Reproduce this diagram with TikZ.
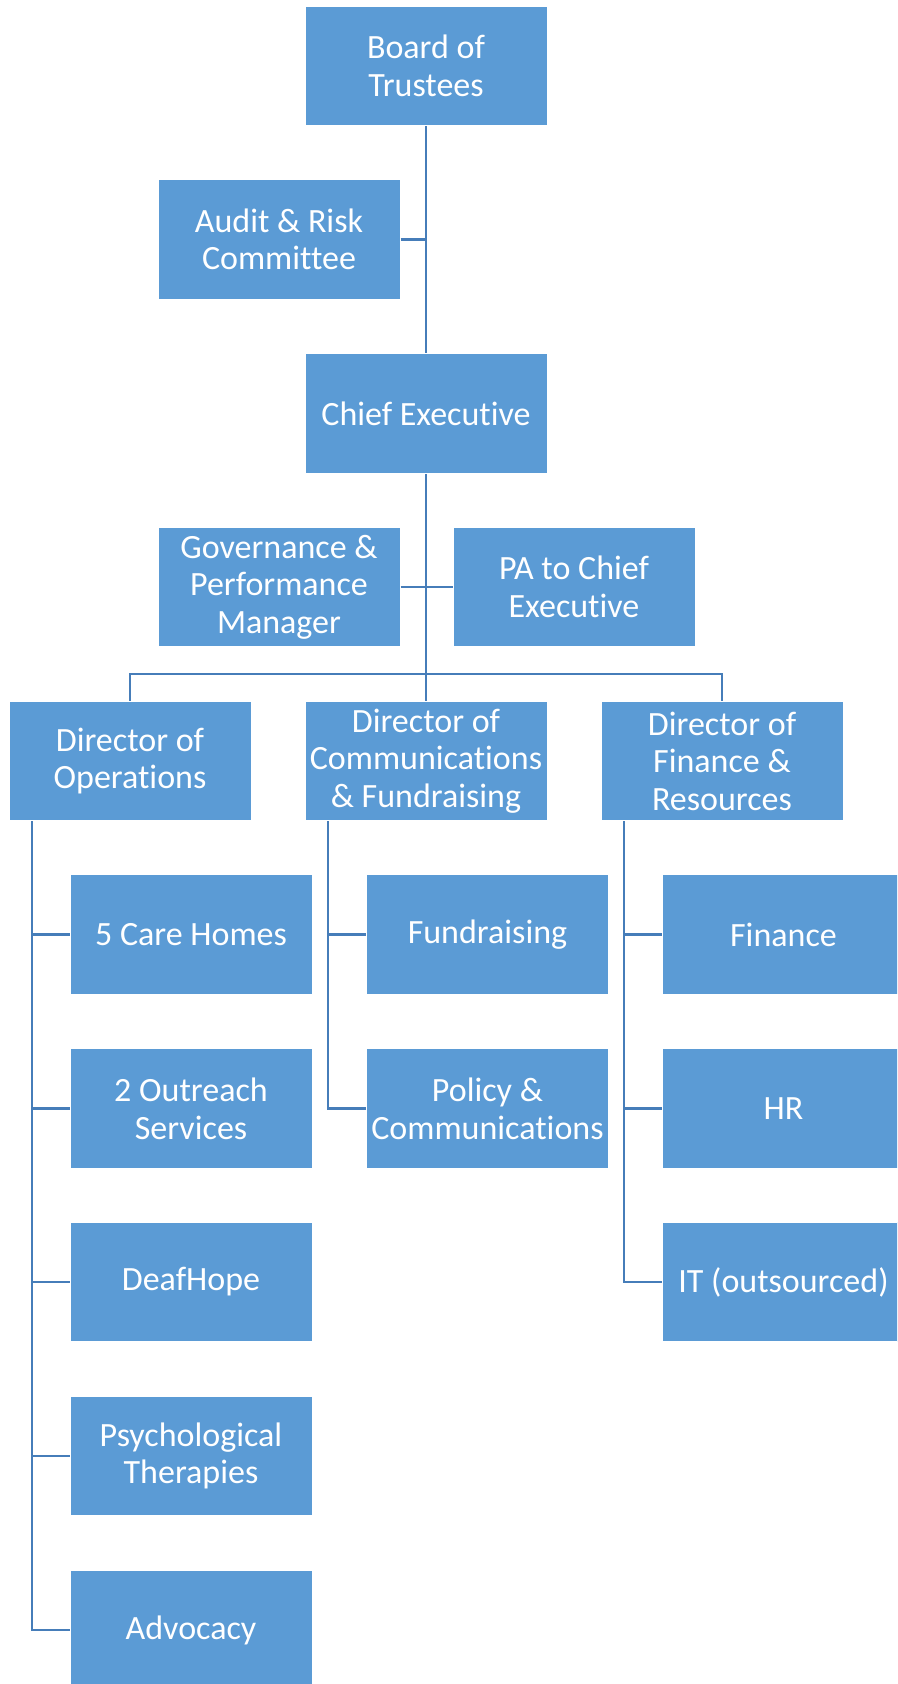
\documentclass[tikz,border=0pt]{standalone}
\usepackage{fontspec}
\setmainfont{Carlito}[RawFeature={-liga;-clig;-calt}]
\definecolor{boxblue}{HTML}{5B9BD5}
\definecolor{lineblue}{RGB}{70,125,185}
\begin{document}
\begin{tikzpicture}[x=1pt,y=-1pt,
  orgbox/.style={rectangle, fill=boxblue, draw=white, line width=1pt,
    minimum width=242pt, minimum height=119.5pt, inner sep=0pt,
    align=center, text=white, font=\fontsize{34}{37.5}\selectfont},
  conn/.style={draw=lineblue, line width=2.5pt}]
\useasboundingbox (0,0) rectangle (897,1684);
\clip (0,0) rectangle (897,1684);
\coordinate (bus) at (426,674);
\coordinate (ot) at (32,821);
\coordinate (mt) at (328,821);
\coordinate (ft) at (624,821);
% nodes
\node[orgbox] (board) at (426,66) {Board of\\Trustees};
\node[orgbox] (audit) at (279,239.5) {Audit \& Risk\\Committee};
\node[orgbox] (chief) at (426,413.5) {Chief Executive};
\node[orgbox] (gov) at (279,587) {Governance \&\\Performance\\Manager};
\node[orgbox] (pa) at (574,587) {PA to Chief\\Executive};
\node[orgbox] (ops) at (130,761) {Director of\\Operations};
\node[orgbox] (comm) at (426,761) {Director of\\Communications\\\& Fundraising};
\node[orgbox] (fin) at (722,761) {Director of\\Finance \&\\Resources};
\node[orgbox] (care) at (191,934.5) {5 Care Homes};
\node[orgbox] (outr) at (191,1108.7) {2 Outreach\\Services};
\node[orgbox] (deaf) at (191,1282) {DeafHope};
\node[orgbox] (psy) at (191,1456) {Psychological\\Therapies};
\node[orgbox] (adv) at (191,1630) {Advocacy};
\node[orgbox] (fund) at (487.5,934.5) {Fundraising};
\node[orgbox] (pol) at (487.5,1108.7) {Policy \&\\Communications};
\node[orgbox] (finc) at (783.5,934.5) {Finance};
\node[orgbox] (hr) at (783.5,1108.7) {HR};
\node[orgbox] (it) at (783.5,1282) {IT (outsourced)};
% connectors
\draw[conn] (board.south) -- (chief.north);
\draw[conn] (audit.east) -- (audit.east -| board.south);
\draw[conn] (chief.south) -- (comm.north);
\draw[conn] (gov.east) -- (pa.west);
\draw[conn] (ops.north) |- (bus) -| (fin.north);
\draw[conn] (ot) |- (care.west);
\draw[conn] (ot) |- (outr.west);
\draw[conn] (ot) |- (deaf.west);
\draw[conn] (ot) |- (psy.west);
\draw[conn] (ot) |- (adv.west);
\draw[conn] (mt) |- (fund.west);
\draw[conn] (mt) |- (pol.west);
\draw[conn] (ft) |- (finc.west);
\draw[conn] (ft) |- (hr.west);
\draw[conn] (ft) |- (it.west);
\end{tikzpicture}
\end{document}
